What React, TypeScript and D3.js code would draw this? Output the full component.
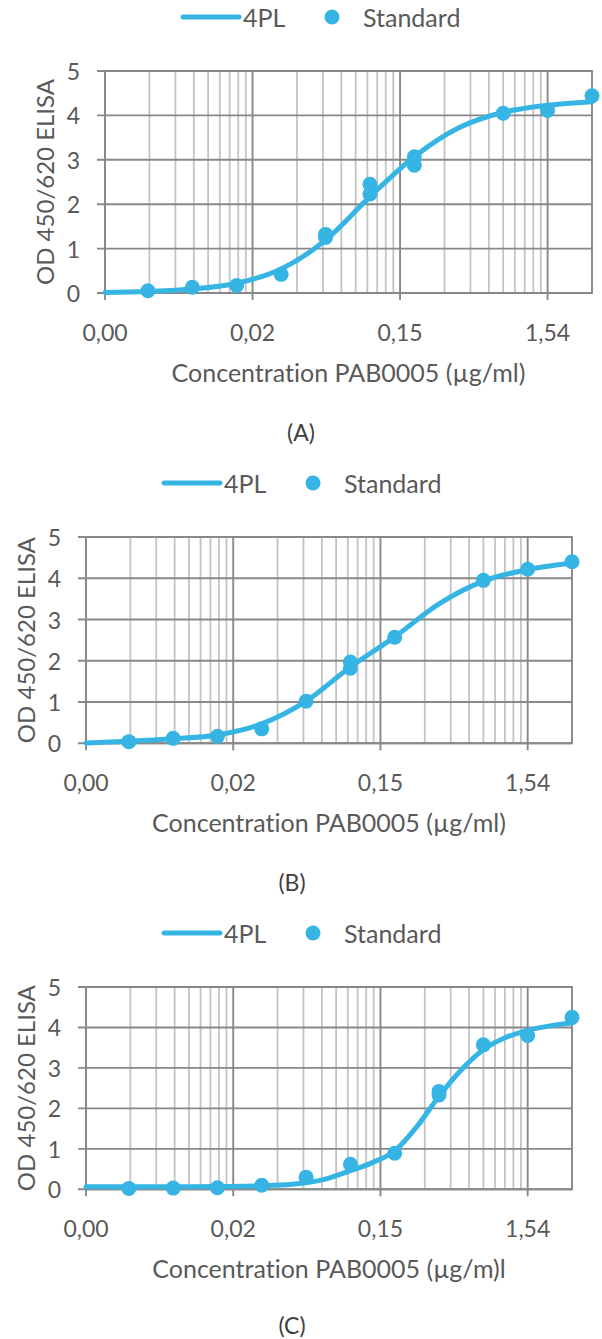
import React from "react";
import * as d3 from "d3";

// ---------- data ----------
const xTickValues = [0.00154, 0.0154, 0.154, 1.54];
const xTickLabels = ["0,00", "0,02", "0,15", "1,54"];
const yTickValues = [0, 1, 2, 3, 4, 5];
const xDomain = [0.00154, 3.08];

// curve samples
const curveConcAB = [0.00154, 0.00301, 0.00602, 0.01203, 0.02406, 0.04813, 0.09625, 0.1925, 0.385, 0.77, 1.54, 3.08];
const curveA = [0.01, 0.035, 0.09, 0.22, 0.54, 1.19, 2.17, 3.07, 3.72, 4.07, 4.23, 4.31];
const curveB = [0.01, 0.05, 0.11, 0.2, 0.47, 1.02, 1.85, 2.58, 3.38, 3.93, 4.21, 4.37];
const curveConcC = [0.00154, 0.00301, 0.00602, 0.01203, 0.02406, 0.04813, 0.068, 0.09625, 0.136, 0.1925, 0.272, 0.385, 0.544, 0.77, 1.09, 1.54, 2.18, 3.08];
const curveC = [0.06, 0.065, 0.065, 0.07, 0.085, 0.16, 0.27, 0.46, 0.66, 0.95, 1.55, 2.3, 2.95, 3.45, 3.75, 3.93, 4.04, 4.11];

// standards
const stdConcA = [0.00301, 0.00602, 0.01203, 0.02406, 0.04813, 0.04813, 0.09625, 0.09625, 0.1925, 0.1925, 0.77, 1.54, 3.08];
const stdA = [0.05, 0.13, 0.17, 0.42, 1.25, 1.32, 2.45, 2.23, 3.07, 2.88, 4.05, 4.11, 4.44];
const stdConcB = [0.00301, 0.00602, 0.01203, 0.02406, 0.04813, 0.09625, 0.09625, 0.1925, 0.77, 1.54, 3.08];
const stdB = [0.04, 0.12, 0.17, 0.35, 1.02, 1.97, 1.82, 2.57, 3.95, 4.22, 4.4];
const stdConcC = [0.00301, 0.00602, 0.01203, 0.02406, 0.04813, 0.09625, 0.1925, 0.385, 0.385, 0.77, 1.54, 3.08];
const stdC = [0.02, 0.03, 0.04, 0.1, 0.3, 0.62, 0.89, 2.33, 2.42, 3.57, 3.8, 4.25];

const xTitles = ["Concentration PAB0005 (µg/ml)", "Concentration PAB0005 (µg/ml)", "Concentration PAB0005 (µg/m)l"];
const panelLabels = ["(A)", "(B)", "(C)"];
const yTitle = "OD 450/620 ELISA";
const legendLabels = ["4PL", "Standard"];

// ---------- layout ----------
const W = 602;
const H = 1339;
const BLUE = "#36b5e5";
const TEXT = "#595959";
const FONT = "Lato, 'Open Sans', sans-serif";
const noLig = { fontVariantLigatures: "none" as const, fontFeatureSettings: "'liga' 0, 'clig' 0" };

const panels = [
  { left: 105, right: 592, top: 71, bottom: 293, labelX: 301, labelY: 432, cc: curveConcAB, cv: curveA, sc: stdConcA, sv: stdA },
  { left: 86, right: 572, top: 537, bottom: 743.3, labelX: 292, labelY: 882, cc: curveConcAB, cv: curveB, sc: stdConcB, sv: stdB },
  { left: 86, right: 572, top: 987, bottom: 1189.3, labelX: 292, labelY: 1325, cc: curveConcC, cv: curveC, sc: stdConcC, sv: stdC },
];

function minorTicks(): number[] {
  const out: number[] = [];
  for (let k = 0; k < 4; k++) {
    for (let m = 2; m <= 9; m++) {
      const v = xTickValues[k] * m;
      if (v < xDomain[1] * 0.999) out.push(v);
    }
  }
  return out;
}

function Panel({ p, i }: { p: any; i: number }) {
  const x = d3.scaleLog().domain(xDomain).range([p.left, p.right]);
  const y = d3.scaleLinear().domain([0, 5]).range([p.bottom, p.top]);
  const pts = p.cc.map((c: number, j: number) => [c, p.cv[j]] as [number, number]);
  const line = d3
    .line<[number, number]>()
    .x((d) => x(d[0]))
    .y((d) => y(d[1]))
    .curve(d3.curveMonotoneX);
  const minors = minorTicks();
  const cy = (p.top + p.bottom) / 2;
  const cx = (p.left + p.right) / 2;
  const lgY = p.top - 54;
  const L = p.left;
  return (
    <g style={noLig}>
      {minors.map((v, j) => (
        <line key={"mn" + j} x1={x(v)} x2={x(v)} y1={p.top} y2={p.bottom} stroke="#c3c3c3" strokeWidth={1.8} />
      ))}
      {yTickValues.map((v) => (
        <line key={"h" + v} x1={p.left - 8} x2={p.right} y1={y(v)} y2={y(v)} stroke="#888" strokeWidth={1.9} />
      ))}
      {xTickValues.map((v, j) => (
        <line key={"mj" + j} x1={x(v)} x2={x(v)} y1={p.top} y2={p.bottom + 7} stroke="#888" strokeWidth={1.9} />
      ))}
      <rect x={p.left} y={p.top} width={p.right - p.left} height={p.bottom - p.top} fill="none" stroke="#888" strokeWidth={1.9} />
      <path d={line(pts) || ""} fill="none" stroke={BLUE} strokeWidth={5} strokeLinecap="round" />
      {p.sc.map((c: number, j: number) => (
        <circle key={"s" + j} cx={x(c)} cy={y(p.sv[j])} r={7.5} fill={BLUE} />
      ))}
      {yTickValues.map((v) => (
        <text key={"yl" + v} x={p.left - 25} y={y(v)} textAnchor="end" dominantBaseline="central" fontSize={23} fill={TEXT} fontFamily={FONT}>
          {v}
        </text>
      ))}
      {xTickValues.map((v, j) => (
        <text key={"xl" + j} x={x(v)} y={p.bottom + 39} textAnchor="middle" dominantBaseline="central" fontSize={23} fill={TEXT} fontFamily={FONT}>
          {xTickLabels[j]}
        </text>
      ))}
      <text transform={`translate(${p.left - 61},${cy}) rotate(-90)`} textAnchor="middle" dominantBaseline="central" fontSize={24} fill={TEXT} fontFamily={FONT}>
        {yTitle}
      </text>
      <text x={cx} y={p.bottom + 79} textAnchor="middle" dominantBaseline="central" fontSize={25} fill={TEXT} fontFamily={FONT}>
        {xTitles[i]}
      </text>
      <text x={p.labelX} y={p.labelY} textAnchor="middle" dominantBaseline="central" fontSize={23} fill="#404040" fontFamily={FONT}>
        {panelLabels[i]}
      </text>
      <line x1={L + 78} x2={L + 134} y1={lgY} y2={lgY} stroke={BLUE} strokeWidth={5} strokeLinecap="round" />
      <text x={L + 138} y={lgY} dominantBaseline="central" fontSize={25} fill={TEXT} fontFamily={FONT}>
        {legendLabels[0]}
      </text>
      <circle cx={L + 227} cy={lgY} r={7.5} fill={BLUE} />
      <text x={L + 258} y={lgY} dominantBaseline="central" fontSize={25} fill={TEXT} fontFamily={FONT}>
        {legendLabels[1]}
      </text>
    </g>
  );
}

export default function App() {
  return (
    <svg width={W} height={H} style={{ position: "absolute", left: 0, top: 0, background: "#fff" }}>
      <rect x={0} y={0} width={W} height={H} fill="#fff" />
      {panels.map((p, i) => (
        <Panel key={i} p={p} i={i} />
      ))}
    </svg>
  );
}
